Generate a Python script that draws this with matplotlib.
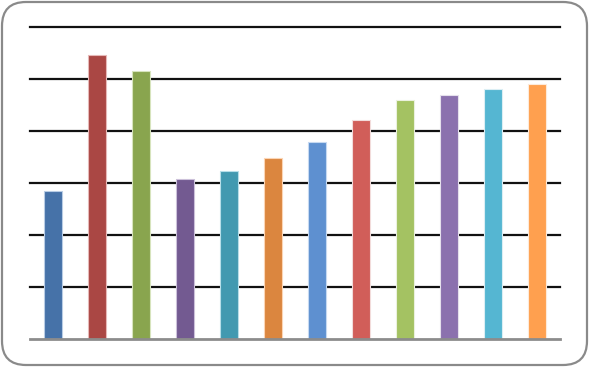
import numpy as np
import matplotlib
matplotlib.use("Agg")
import matplotlib.pyplot as plt
from matplotlib.patches import FancyBboxPatch
from matplotlib.transforms import IdentityTransform

categories = list(range(12))
values = [2.85, 5.46, 5.15, 3.08, 3.23, 3.48, 3.79, 4.21, 4.60, 4.69, 4.81, 4.90]
colors = ["#4672A8", "#AA4744", "#89A54E", "#735A91", "#4299B0", "#DB863F",
          "#5E90D0", "#D15E59", "#A4C262", "#8B71AE", "#55B6D2", "#FFA04F"]
edges = ["#B9CDE5", "#E6B9B8", "#D7E4BD", "#CCC1DA", "#B7DEE8", "#FCD5B5",
         "#C6D9F1", "#F2DCDB", "#EBF1DE", "#E5E0EC", "#DBEEF4", "#FDEADA"]
gridlines = [1, 2, 3, 4, 5, 6]

fig = plt.figure(figsize=(5.89, 3.67), dpi=100)
ax = fig.add_axes([30 / 589, 1 - 339 / 367, 530 / 589, 312 / 367])

for g in gridlines:
    ax.axhline(g, color="#111111", lw=1.6, zorder=1, clip_on=False)

ax.bar(categories, values, width=0.4, color=colors, edgecolor=edges, linewidth=0.8, zorder=2)

ax.set_xlim(-0.52, 11.52)
ax.set_ylim(0, 6)
ax.set_xticks([])
ax.set_yticks([])
for s in ["top", "right", "left"]:
    ax.spines[s].set_visible(False)
ax.spines["bottom"].set_color("#8C8C8C")
ax.spines["bottom"].set_linewidth(2)
ax.spines["bottom"].set_zorder(3)

# rounded outer frame
frame = FancyBboxPatch((22, 22), 545, 323, boxstyle="round,pad=20,rounding_size=24",
                       transform=IdentityTransform(), facecolor="none",
                       edgecolor="#8A8A8A", linewidth=1.6)
fig.patches.append(frame)

fig.savefig("out.png", dpi=100)
